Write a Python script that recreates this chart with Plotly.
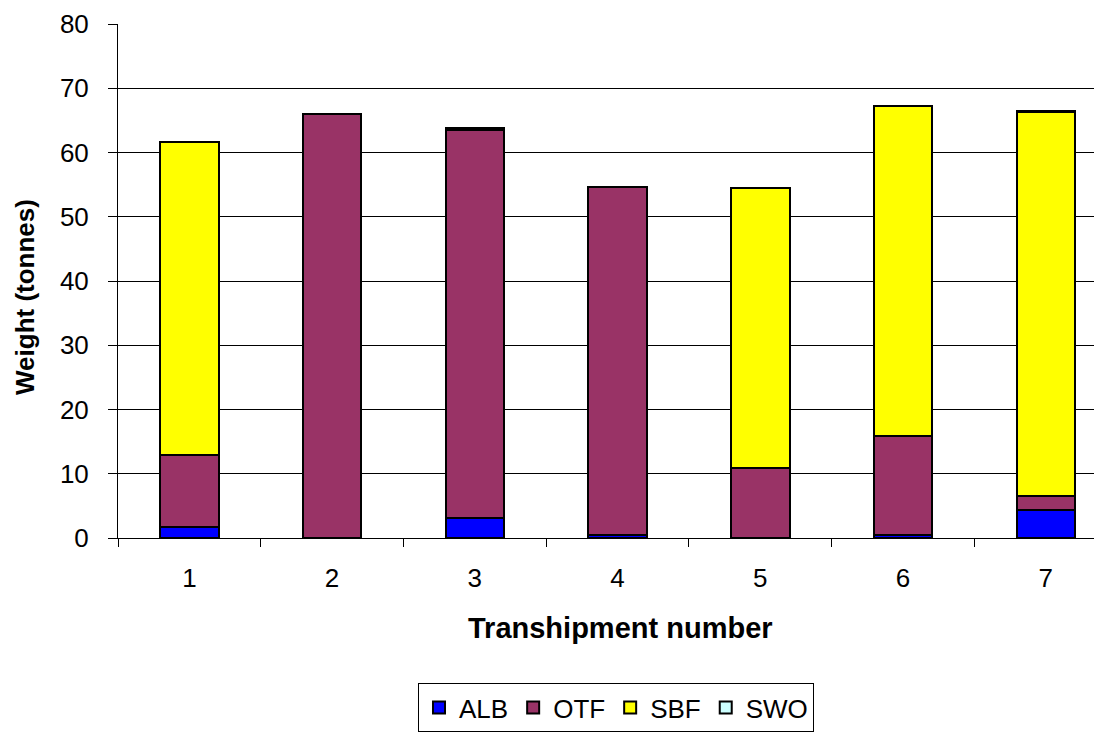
import plotly.graph_objects as go

categories = ["1", "2", "3", "4", "5", "6", "7"]
alb = [1.7, None, 3.1, 0.5, None, 0.4, 4.3]
otf = [11.2, 66.0, 60.4, 54.2, 10.9, 15.4, 2.2]
sbf = [48.8, None, 0.3, None, 43.5, 51.4, 59.8]
swo = [None, None, None, None, None, None, 0.2]
y_ticks = [0, 10, 20, 30, 40, 50, 60, 70, 80]

series = [("ALB", alb, "#0000FF"), ("OTF", otf, "#993366"),
          ("SBF", sbf, "#FFFF00"), ("SWO", swo, "#CCFFFF")]

fig = go.Figure()
for name, vals, col in series:
    fig.add_trace(go.Bar(x=categories, y=vals, name=name, width=0.41,
                         marker=dict(color=col, line=dict(color="black", width=2))))

font = "Liberation Sans, Arial, sans-serif"
W, H = 1102, 732
L, T, B = 110, 16, 202
pw, ph = W - L, H - T - B


def px_to_paper(sx, sy):
    # screen coords (page has 8px body margin) -> paper coords
    fx, fy = sx - 8, sy - 8
    return (fx - L) / pw, 1 - (fy - T) / ph


xt = px_to_paper(620, 628)
yt = px_to_paper(25, 297)

fig.update_layout(
    barmode="stack",
    width=W, height=H,
    margin=dict(l=L, r=0, t=T, b=B),
    paper_bgcolor="white", plot_bgcolor="white",
    font=dict(family=font, size=26, color="black"),
    xaxis=dict(type="category", range=[-0.5, 6.45], tickson="boundaries",
               ticks="outside", ticklen=8, tickcolor="black", tickwidth=1,
               showline=True, linecolor="black", linewidth=1,
               showgrid=False, ticklabelstandoff=17),
    yaxis=dict(range=[0, 80], tickvals=y_ticks, ticks="outside", ticklen=9,
               tickcolor="black", tickwidth=1, showline=True, linecolor="black",
               linewidth=1, showgrid=True, gridcolor="black", gridwidth=1,
               zeroline=False, ticklabelstandoff=14),
    legend=dict(orientation="h", xref="container", yref="container",
                x=608 / 1102, xanchor="center", y=1 - 675 / 732, yanchor="top",
                bordercolor="black", borderwidth=1, font=dict(size=26),
                traceorder="normal", itemwidth=30, tracegroupgap=0),
    annotations=[
        dict(text="<b>Transhipment number</b>", xref="paper", yref="paper",
             x=xt[0], y=xt[1], xanchor="center", yanchor="middle",
             showarrow=False, font=dict(size=29)),
        dict(text="<b>Weight (tonnes)</b>", xref="paper", yref="paper",
             x=yt[0], y=yt[1], xanchor="center", yanchor="middle",
             showarrow=False, textangle=-90, font=dict(size=26)),
    ],
)
fig.write_html("out.html")
